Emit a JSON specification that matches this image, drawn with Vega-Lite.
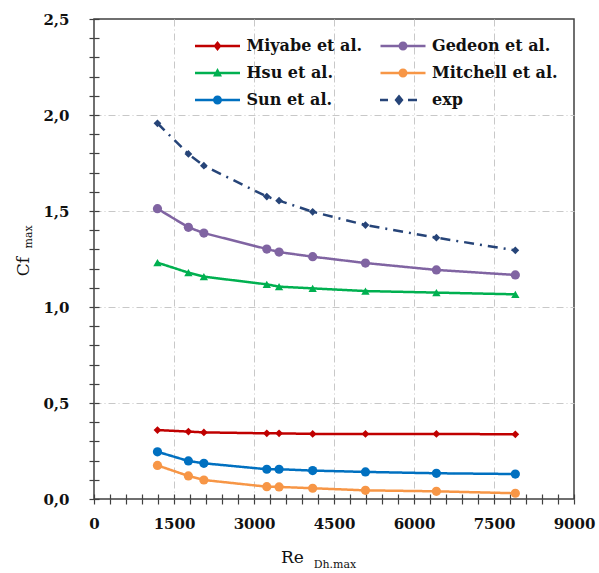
{
  "$schema": "https://vega.github.io/schema/vega-lite/v6.json",
  "width": 480,
  "height": 480,
  "autosize": {"type": "none"},
  "padding": {"left": 94, "top": 19, "right": 25, "bottom": 74},
  "background": "white",
  "config": {
    "view": {"stroke": "#404040", "strokeWidth": 1.5},
    "font": "DejaVu Serif"
  },
  "data": {
    "values": [
      {"series": "Miyabe et al.", "Re": 1190, "Cf": 0.359},
      {"series": "Miyabe et al.", "Re": 1770, "Cf": 0.351},
      {"series": "Miyabe et al.", "Re": 2060, "Cf": 0.347},
      {"series": "Miyabe et al.", "Re": 3240, "Cf": 0.342},
      {"series": "Miyabe et al.", "Re": 3470, "Cf": 0.342},
      {"series": "Miyabe et al.", "Re": 4100, "Cf": 0.339},
      {"series": "Miyabe et al.", "Re": 5090, "Cf": 0.339},
      {"series": "Miyabe et al.", "Re": 6420, "Cf": 0.339},
      {"series": "Miyabe et al.", "Re": 7900, "Cf": 0.337},
      {"series": "Gedeon et al.", "Re": 1190, "Cf": 1.512},
      {"series": "Gedeon et al.", "Re": 1770, "Cf": 1.415},
      {"series": "Gedeon et al.", "Re": 2060, "Cf": 1.385},
      {"series": "Gedeon et al.", "Re": 3240, "Cf": 1.302},
      {"series": "Gedeon et al.", "Re": 3470, "Cf": 1.286},
      {"series": "Gedeon et al.", "Re": 4100, "Cf": 1.262},
      {"series": "Gedeon et al.", "Re": 5090, "Cf": 1.229},
      {"series": "Gedeon et al.", "Re": 6420, "Cf": 1.193},
      {"series": "Gedeon et al.", "Re": 7900, "Cf": 1.167},
      {"series": "Hsu et al.", "Re": 1190, "Cf": 1.231},
      {"series": "Hsu et al.", "Re": 1770, "Cf": 1.179},
      {"series": "Hsu et al.", "Re": 2060, "Cf": 1.158},
      {"series": "Hsu et al.", "Re": 3240, "Cf": 1.118},
      {"series": "Hsu et al.", "Re": 3470, "Cf": 1.106},
      {"series": "Hsu et al.", "Re": 4100, "Cf": 1.097},
      {"series": "Hsu et al.", "Re": 5090, "Cf": 1.083},
      {"series": "Hsu et al.", "Re": 6420, "Cf": 1.075},
      {"series": "Hsu et al.", "Re": 7900, "Cf": 1.066},
      {"series": "Mitchell et al.", "Re": 1190, "Cf": 0.175},
      {"series": "Mitchell et al.", "Re": 1770, "Cf": 0.120},
      {"series": "Mitchell et al.", "Re": 2060, "Cf": 0.099},
      {"series": "Mitchell et al.", "Re": 3240, "Cf": 0.064},
      {"series": "Mitchell et al.", "Re": 3470, "Cf": 0.063},
      {"series": "Mitchell et al.", "Re": 4100, "Cf": 0.056},
      {"series": "Mitchell et al.", "Re": 5090, "Cf": 0.045},
      {"series": "Mitchell et al.", "Re": 6420, "Cf": 0.040},
      {"series": "Mitchell et al.", "Re": 7900, "Cf": 0.030},
      {"series": "Sun et al.", "Re": 1190, "Cf": 0.246},
      {"series": "Sun et al.", "Re": 1770, "Cf": 0.198},
      {"series": "Sun et al.", "Re": 2060, "Cf": 0.186},
      {"series": "Sun et al.", "Re": 3240, "Cf": 0.155},
      {"series": "Sun et al.", "Re": 3470, "Cf": 0.155},
      {"series": "Sun et al.", "Re": 4100, "Cf": 0.148},
      {"series": "Sun et al.", "Re": 5090, "Cf": 0.141},
      {"series": "Sun et al.", "Re": 6420, "Cf": 0.134},
      {"series": "Sun et al.", "Re": 7900, "Cf": 0.130},
      {"series": "exp", "Re": 1190, "Cf": 1.957},
      {"series": "exp", "Re": 1770, "Cf": 1.797},
      {"series": "exp", "Re": 2060, "Cf": 1.736},
      {"series": "exp", "Re": 3240, "Cf": 1.575},
      {"series": "exp", "Re": 3470, "Cf": 1.554},
      {"series": "exp", "Re": 4100, "Cf": 1.496},
      {"series": "exp", "Re": 5090, "Cf": 1.427},
      {"series": "exp", "Re": 6420, "Cf": 1.361},
      {"series": "exp", "Re": 7900, "Cf": 1.295}
    ]
  },
  "resolve": {"axis": {"x": "independent", "y": "independent"}},
  "layer": [
    {
      "mark": {"type": "line", "strokeWidth": 2.5},
      "encoding": {
        "x": {
          "field": "Re", "type": "quantitative",
          "scale": {"domain": [0, 9000], "nice": false, "zero": false},
          "axis": {
            "values": [0,300,600,900,1200,1500,1800,2100,2400,2700,3000,3300,3600,3900,4200,4500,4800,5100,5400,5700,6000,6300,6600,6900,7200,7500,7800,8100,8400,8700,9000],
            "labelExpr": "datum.value % 1500 === 0 ? format(datum.value, 'd') : ''",
            "labelOverlap": false, "labelFlush": false,
            "labelFont": "DejaVu Serif", "labelFontWeight": "bold", "labelFontSize": 15, "labelColor": "#111111",
            "labelPadding": 12,
            "domain": false,
            "tickSize": 5, "tickColor": "#404040", "tickWidth": 1.2,
            "grid": true,
            "gridColor": {"condition": {"test": "datum.value % 1500 === 0 && datum.value > 0 && datum.value < 9000", "value": "#c8c8c8"}, "value": "transparent"},
            "gridDash": [7, 3, 1, 3], "gridWidth": 1,
            "title": "Re",
            "titleFont": "DejaVu Serif", "titleFontWeight": "normal", "titleFontSize": 17, "titleColor": "#111111",
            "titleX": 198, "titleY": 58, "titleBaseline": "middle", "titleAlign": "center", "titleAnchor": null
          }
        },
        "y": {
          "field": "Cf", "type": "quantitative",
          "scale": {"domain": [0, 2.5], "nice": false},
          "axis": {
            "values": [0,0.1,0.2,0.3,0.4,0.5,0.6,0.7,0.8,0.9,1.0,1.1,1.2,1.3,1.4,1.5,1.6,1.7,1.8,1.9,2.0,2.1,2.2,2.3,2.4,2.5],
            "labelExpr": "abs(datum.value*2 - round(datum.value*2)) < 0.001 ? replace(format(datum.value, '.1f'), '.', ',') : ''",
            "labelOverlap": false, "labelFlush": false,
            "labelFont": "DejaVu Serif", "labelFontWeight": "bold", "labelFontSize": 15, "labelColor": "#111111",
            "labelPadding": 20,
            "domain": false,
            "tickSize": 5, "tickColor": "#404040", "tickWidth": 1.2,
            "grid": true,
            "gridColor": {"condition": {"test": "abs(datum.value*2 - round(datum.value*2)) < 0.001 && datum.value > 0.01 && datum.value < 2.49", "value": "#c8c8c8"}, "value": "transparent"},
            "gridDash": [7, 3, 1, 3], "gridWidth": 1,
            "title": "Cf",
            "titleFont": "DejaVu Serif", "titleFontWeight": "normal", "titleFontSize": 17, "titleColor": "#111111",
            "titleX": -71, "titleY": 247, "titleBaseline": "middle", "titleAlign": "center", "titleAngle": 270, "titleAnchor": null
          }
        },
        "color": {
          "field": "series", "type": "nominal",
          "scale": {
            "domain": ["Miyabe et al.", "Hsu et al.", "Sun et al.", "Gedeon et al.", "Mitchell et al.", "exp"],
            "range": ["#C00000", "#00B050", "#0070C0", "#8064A2", "#F79646", "#264478"]
          },
          "legend": {
            "orient": "none", "legendX": 113.5, "legendY": 17, "columns": 2, "title": null,
            "padding": 0, "symbolSize": 400, "symbolStrokeWidth": 0,
            "labelFont": "DejaVu Serif", "labelFontWeight": "bold", "labelFontSize": 16, "labelColor": "#111111",
            "labelOffset": 19, "columnPadding": 17.5, "rowPadding": 9,
            "encode": {
              "symbols": {
                "update": {
                  "shape": {"signal": "datum.value === 'exp' ? 'M-2.3,-0.13H-1.5V0.13H-2.3Z M0.5,-0.13H1.4V0.13H0.5Z M-0.4,-0.55L0.05,0L-0.4,0.55L-0.85,0Z' : (datum.value === 'Hsu et al.' ? 'M-2.25,-0.13H2.25V0.13H-2.25Z M0,-0.5L0.45,0.35L-0.45,0.35Z' : (datum.value === 'Miyabe et al.' ? 'M-2.25,-0.13H2.25V0.13H-2.25Z M0,-0.5L0.4,0L0,0.5L-0.4,0Z' : 'M-2.25,-0.13H2.25V0.13H-2.25Z M-0.45,0A0.45,0.45 0 1,1 0.45,0A0.45,0.45 0 1,1 -0.45,0Z'))"},
                  "size": {"value": 400},
                  "fill": {"scale": "color", "field": "value"},
                  "stroke": {"value": "transparent"},
                  "strokeDash": {"value": [1, 0]},
                  "opacity": {"value": 1}
                }
              }
            }
          }
        },
        "strokeDash": {
          "field": "series", "type": "nominal",
          "scale": {
            "domain": ["Miyabe et al.", "Hsu et al.", "Sun et al.", "Gedeon et al.", "Mitchell et al.", "exp"],
            "range": [[1, 0], [1, 0], [1, 0], [1, 0], [1, 0], [10, 6, 2, 6]]
          },
          "legend": null
        }
      }
    },
    {
      "transform": [{"filter": "datum.series === 'Miyabe et al.' || datum.series === 'exp'"}],
      "mark": {"type": "point", "filled": true, "opacity": 1, "shape": "diamond", "size": 60},
      "encoding": {
        "x": {
          "field": "Re", "type": "quantitative",
          "axis": {
            "orient": "bottom",
            "values": [0,300,600,900,1200,1500,1800,2100,2400,2700,3000,3300,3600,3900,4200,4500,4800,5100,5400,5700,6000,6300,6600,6900,7200,7500,7800,8100,8400,8700,9000],
            "labels": false, "domain": false, "grid": false, "title": null,
            "tickSize": -5, "tickColor": "#404040", "tickWidth": 1.2
          }
        },
        "y": {
          "field": "Cf", "type": "quantitative",
          "axis": {
            "orient": "left",
            "values": [0,0.1,0.2,0.3,0.4,0.5,0.6,0.7,0.8,0.9,1.0,1.1,1.2,1.3,1.4,1.5,1.6,1.7,1.8,1.9,2.0,2.1,2.2,2.3,2.4,2.5],
            "labels": false, "domain": false, "grid": false, "title": null,
            "tickSize": -5, "tickColor": "#404040", "tickWidth": 1.2
          }
        },
        "color": {"field": "series", "type": "nominal"}
      }
    },
    {
      "transform": [{"filter": "datum.series === 'Gedeon et al.' || datum.series === 'Mitchell et al.' || datum.series === 'Sun et al.'"}],
      "mark": {"type": "point", "filled": true, "opacity": 1, "shape": "circle", "size": 85},
      "encoding": {
        "x": {"field": "Re", "type": "quantitative", "axis": null},
        "y": {"field": "Cf", "type": "quantitative", "axis": null},
        "color": {"field": "series", "type": "nominal"}
      }
    },
    {
      "transform": [{"filter": "datum.series === 'Hsu et al.'"}],
      "mark": {"type": "point", "filled": true, "opacity": 1, "shape": "triangle-up", "size": 70},
      "encoding": {
        "x": {"field": "Re", "type": "quantitative", "axis": null},
        "y": {"field": "Cf", "type": "quantitative", "axis": null},
        "color": {"field": "series", "type": "nominal"}
      }
    },
    {
      "data": {"values": [{"label": "Dh.max"}]},
      "mark": {"type": "text", "font": "DejaVu Serif", "fontSize": 11, "color": "#111111", "align": "center", "baseline": "middle"},
      "encoding": {
        "x": {"datum": 4519, "type": "quantitative", "axis": null},
        "y": {"datum": -0.345, "type": "quantitative", "axis": null},
        "text": {"field": "label"}
      }
    },
    {
      "data": {"values": [{"label": "max"}]},
      "mark": {"type": "text", "font": "DejaVu Serif", "fontSize": 11, "color": "#111111", "align": "center", "baseline": "middle", "angle": 270},
      "encoding": {
        "x": {"datum": -1224, "type": "quantitative", "axis": null},
        "y": {"datum": 1.365, "type": "quantitative", "axis": null},
        "text": {"field": "label"}
      }
    }
  ]
}
